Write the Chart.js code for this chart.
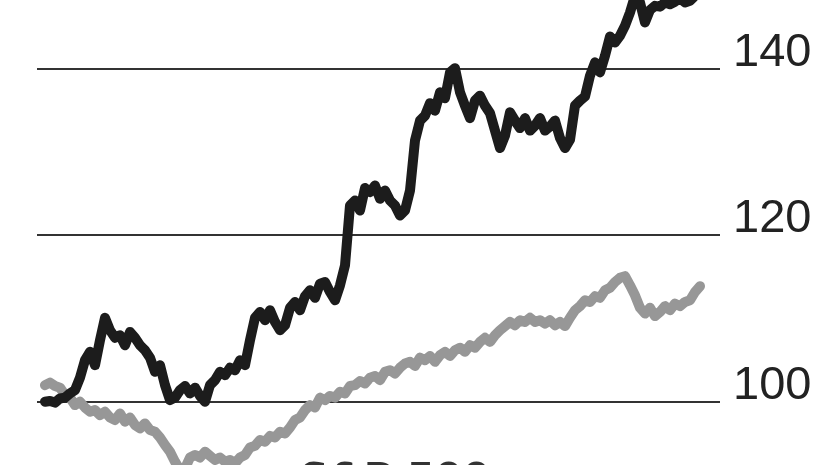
<!DOCTYPE html>
<html>
<head>
<meta charset="utf-8">
<script src="https://cdn.jsdelivr.net/npm/chart.js@4/dist/chart.umd.min.js"></script>
<style>
html,body{margin:0;padding:0;background:#fff;}
#wrap{width:826px;height:465px;position:relative;}
</style>
</head>
<body>
<div id="wrap"><canvas id="c" width="826" height="465"></canvas></div>
<script>
// Index values (start = 100), sampled across the period
const stockValues = [
100.0,100.1,99.9,100.4,100.5,101.0,101.4,102.9,105.0,106.0,
104.4,107.4,110.1,108.6,107.7,108.0,106.8,108.4,107.7,106.8,
106.2,105.3,103.6,104.4,102.0,100.2,100.5,101.4,101.9,101.0,
101.7,100.7,100.0,102.0,102.6,103.6,103.2,104.1,103.8,105.0,
104.4,107.4,110.1,110.8,109.8,111.0,109.6,108.6,109.2,111.3,
112.0,111.0,112.7,113.4,112.5,114.2,114.4,113.2,112.2,114.0,
116.4,123.6,124.2,123.0,125.7,125.2,126.0,124.4,125.4,124.2,
123.6,122.4,123.0,125.4,131.4,133.8,134.4,135.9,135.0,137.2,
136.5,139.6,140.1,137.2,135.6,134.1,136.2,136.8,135.6,134.7,
132.6,130.5,132.0,134.8,133.8,132.9,134.1,132.6,133.2,134.1,
132.6,133.1,133.8,131.7,130.5,131.5,135.6,136.2,136.7,139.2,
140.8,139.6,141.6,143.9,143.2,144.0,145.2,146.8,148.8,148.0,
145.6,147.1,147.6,147.5,148.0,147.8,148.1,148.5,148.0,148.2,
148.8,149.0
];
const indexValues = [
102.0,102.3,101.9,101.7,100.8,100.5,99.6,100.0,99.3,98.8,
99.0,98.4,98.8,98.1,97.8,98.6,97.6,98.1,97.2,96.8,
97.4,96.6,96.4,95.7,94.8,94.0,92.8,91.8,92.0,93.3,
93.6,93.3,94.0,93.5,93.0,93.3,92.8,93.0,92.6,93.3,
93.6,94.5,94.7,95.4,95.2,95.9,95.7,96.4,96.2,96.9,
97.8,98.1,99.0,99.6,99.3,100.5,100.2,100.7,100.5,101.2,
101.0,101.9,102.0,102.5,102.2,102.9,103.1,102.6,103.6,103.8,
103.4,104.1,104.6,104.8,104.3,105.3,105.0,105.5,104.8,105.6,
106.0,105.5,106.2,106.5,106.0,106.8,106.5,107.2,107.7,107.2,
108.0,108.6,109.1,109.6,109.2,109.8,109.6,110.1,109.6,109.8,
109.4,109.8,109.2,109.6,109.1,110.1,111.0,111.5,112.2,112.0,
112.7,112.5,113.4,113.7,114.4,114.9,115.1,114.0,112.8,111.3,
110.6,111.3,110.3,110.8,111.5,111.0,111.8,111.5,112.0,112.2,
113.2,113.9
];
const tickValues = [100, 120, 140];
const bottomLabel = "S&P 500";

const days = stockValues.map((_, i) => i);

const bottomText = {
  id: 'bottomText',
  afterDraw(chart) {
    const ctx = chart.ctx;
    ctx.save();
    ctx.font = 'bold 40px "DejaVu Sans"';
    ctx.fillStyle = '#333';
    ctx.textBaseline = 'top';
    ctx.textAlign = 'left';
    ctx.fillText(bottomLabel, 300, 462);
    ctx.restore();
  }
};

new Chart(document.getElementById('c'), {
  type: 'line',
  data: {
    datasets: [
      {
        label: 'Stock',
        data: days.map(i => ({x: i, y: stockValues[i]})),
        borderColor: '#1c1c1c',
        borderWidth: 10,
        pointRadius: 0,
        tension: 0,
        borderJoinStyle: 'round',
        borderCapStyle: 'round'
      },
      {
        label: 'Index',
        data: days.map(i => ({x: i, y: indexValues[i]})),
        borderColor: '#979797',
        borderWidth: 10,
        pointRadius: 0,
        tension: 0,
        borderJoinStyle: 'round',
        borderCapStyle: 'round'
      }
    ]
  },
  options: {
    responsive: false,
    animation: false,
    maintainAspectRatio: false,
    clip: false,
    layout: { padding: { left: 37, right: 0, top: 0, bottom: 0 } },
    plugins: { legend: { display: false }, tooltip: { enabled: false } },
    scales: {
      x: {
        type: 'linear',
        min: -1.6,
        max: 135,
        display: false
      },
      y: {
        position: 'right',
        min: 92.4,
        max: 148.3,
        afterBuildTicks: (s) => { s.ticks = tickValues.map(v => ({value: v})); },
        afterFit: (s) => { s.width = 106; s.paddingTop = 0; s.paddingBottom = 0; },
        border: { display: false },
        grid: { color: '#333', lineWidth: 2, drawTicks: false },
        ticks: {
          padding: 13,
          labelOffset: -16,
          color: '#222',
          font: { family: '"Liberation Sans", Arial', size: 47 }
        }
      }
    }
  },
  plugins: [bottomText]
});
</script>
</body>
</html>
